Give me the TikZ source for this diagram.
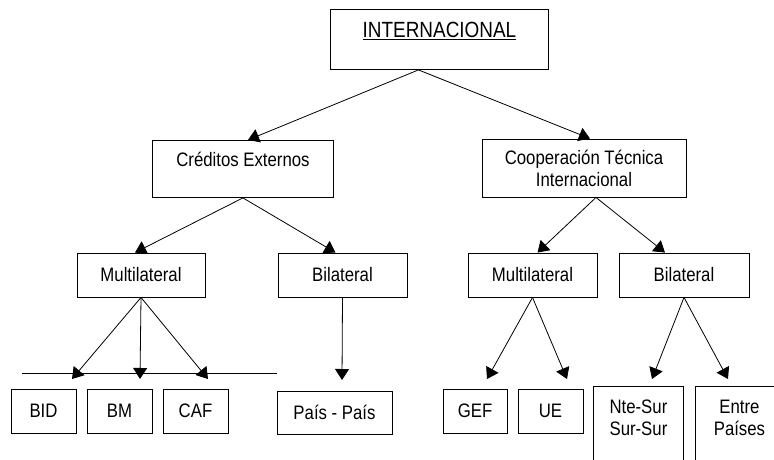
\documentclass[tikz,border=0pt]{standalone}
\usepackage{fontspec}
\setmainfont{Liberation Sans}[FakeStretch=0.86]
\usetikzlibrary{arrows.meta}

\begin{document}
\begin{tikzpicture}[
    x = 1pt, y = -1pt,
    every node/.style = {font = \fontsize{19.5}{22}\selectfont},
    box/.style = {draw, line width = 0.9pt, inner sep = 0pt, minimum height = 44pt},
    topbox/.style = {box, anchor = north west, align = center},
    link/.style = {draw = black, line width = 0.8pt,
                   arrows = {-Triangle[width=14pt,length=11pt,fill=black]}}]

\clip (0,0) rectangle (774,459);

\path (330,9)   node[topbox, minimum width = 218, text height = 28, text depth = 32,
                     font = \fontsize{22}{26}\selectfont] (inter) {\underline{INTERNACIONAL}}
      (152,140) node[topbox, minimum width = 181, text height = 26, text depth = 31] (cred) {Créditos Externos}
      (584,168) node[box, minimum width = 204, minimum height = 58, align = center] (coop) {Cooperación Técnica\\Internacional}
      (141,275)   node[box, minimum width = 128] (multiA) {Multilateral}
      (342.5,275) node[box, minimum width = 129] (bilA) {Bilateral}
      (532.5,275) node[box, minimum width = 129] (multiB) {Multilateral}
      (684,275)   node[box, minimum width = 130] (bilB) {Bilateral}
      (43.5,411)  node[box, minimum width = 65] (bid) {BID}
      (119.5,411) node[box, minimum width = 65] (bm) {BM}
      (195.5,411) node[box, minimum width = 65] (caf) {CAF}
      (334.5,412.5) node[box, minimum width = 115, minimum height = 43] (pais) {País - País}
      (475,411)   node[box, minimum width = 64] (gef) {GEF}
      (550.5,411) node[box, minimum width = 65] (ue) {UE}
      (593,386) node[topbox, minimum width = 90, text height = 49, text depth = 80] (ntesur) {Nte-Sur\\Sur-Sur}
      (695,386) node[topbox, minimum width = 88, text height = 49, text depth = 80] (entre) {Entre\\Países};

\coordinate (lineL) at (22,373);
\coordinate (lineR) at (277,373);
\coordinate (tipbid) at (72,379);
\coordinate (tipbm) at (140,379);
\coordinate (tipcaf) at (208,379);
\coordinate (tippais) at (342,380);
\coordinate (tipgef) at (487,379);
\coordinate (tipue) at (567,379);
\coordinate (tipnte) at (652,379);
\coordinate (tipentre) at (728,379);

\draw[line width = 0.9pt] (lineL) -- (lineR);

\draw[link] ([xshift=-21pt]inter.south) -- ([xshift=5pt]cred.north);
\draw[link] ([xshift=-21pt]inter.south) -- ([xshift=6pt]coop.north);
\draw[link] (cred.south) -- ([xshift=-6pt]multiA.north);
\draw[link] (cred.south) -- ([xshift=-7pt]bilA.north);
\draw[link] ([xshift=12pt]coop.south) -- ([xshift=5pt]multiB.north);
\draw[link] ([xshift=12pt]coop.south) -- ([xshift=-19pt]bilB.north);
\draw[link] (multiA.south) -- (tipbid);
\draw[link] (multiA.south) -- (tipbm);
\draw[link] (multiA.south) -- (tipcaf);
\draw[link] (bilA.south) -- (tippais);
\draw[link] (multiB.south) -- (tipgef);
\draw[link] (multiB.south) -- (tipue);
\draw[link] (bilB.south) -- (tipnte);
\draw[link] (bilB.south) -- (tipentre);
\end{tikzpicture}
\end{document}
